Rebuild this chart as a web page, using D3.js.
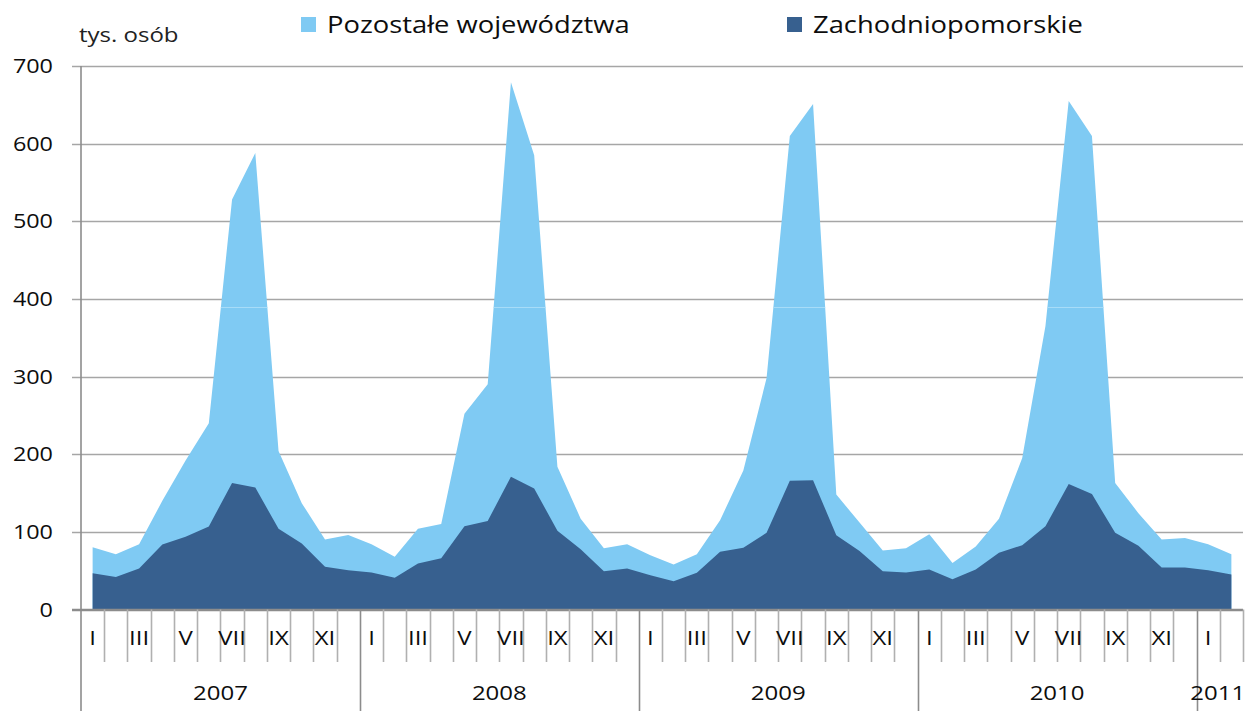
<!DOCTYPE html>
<html><head><meta charset="utf-8">
<script src="https://cdn.jsdelivr.net/npm/d3@7/dist/d3.min.js"></script>
<style>html,body{margin:0;padding:0;background:#fff;}svg{display:block;}</style>
</head><body>
<svg id="c" width="1245" height="711"></svg>
<script>
const seriesNames = ["Pozostałe województwa", "Zachodniopomorskie"];
const years = ["2007", "2008", "2009", "2010", "2011"];
const monthsPerYear = [12, 12, 12, 12, 2];
const monthLabels = ["I", "", "III", "", "V", "", "VII", "", "IX", "", "XI", ""];
const yTicks = [0, 100, 200, 300, 400, 500, 600, 700];
const zachodniopomorskie = [
  46.8, 42.0, 52.8, 83.8, 93.6, 107.0, 163.0, 157.0, 104.0, 85.0, 55.0, 50.6,
  47.7, 41.0, 59.3, 66.0, 107.3, 114.0, 171.0, 156.0, 101.3, 77.7, 49.4, 52.8,
  44.2, 36.5, 47.2, 74.3, 79.4, 98.7, 165.8, 166.6, 95.7, 75.5, 49.4, 47.7,
  51.5, 39.0, 51.5, 73.0, 82.9, 107.3, 161.5, 148.6, 98.7, 82.0, 54.0, 54.0,
  50.6, 45.0
];
const pozostale = [
  33.5, 29.3, 31.2, 56.2, 98.4, 133.0, 365.0, 431.0, 100.0, 52.0, 35.0, 45.4,
  36.3, 27.0, 44.7, 44.0, 144.7, 176.0, 508.0, 429.0, 82.7, 39.3, 29.6, 31.2,
  25.8, 21.5, 23.8, 40.7, 99.6, 199.3, 444.2, 484.4, 52.3, 36.5, 26.6, 31.3,
  45.5, 21.0, 29.5, 44.0, 112.1, 257.7, 493.5, 461.4, 64.3, 42.0, 36.0, 38.0,
  33.4, 26.0
];
const colors = { "Zachodniopomorskie": "#37608F", "Pozostałe województwa": "#7FCAF3" };

// build table
const cats = [];
years.forEach((yr, yi) => { for (let m = 0; m < monthsPerYear[yi]; m++) cats.push({ year: yr, m: m, label: monthLabels[m] }); });
const table = cats.map((c, i) => ({ i: i, "Zachodniopomorskie": zachodniopomorskie[i], "Pozostałe województwa": pozostale[i] }));

const svg = d3.select("#c");
const FONT = "'Open Sans', sans-serif";
const SX = 1.2;

const x = d3.scaleBand().domain(d3.range(cats.length)).range([81, 1243]).paddingInner(0).paddingOuter(0);
const y = d3.scaleLinear().domain([0, 700]).range([609.5, 66]);
const cx = i => x(i) + x.bandwidth() / 2;

function txt(g, px, py, s, anchor, size, fill) {
  return g.append("text").attr("transform", `translate(${px},${py}) scale(${SX},1)`)
    .attr("text-anchor", anchor).attr("font-family", FONT).attr("font-size", size)
    .attr("fill", fill || "#0d0d0d").text(s);
}

// gridlines
const grid = svg.append("g");
yTicks.forEach(t => {
  grid.append("line").attr("x1", 72).attr("x2", 1243).attr("y1", Math.round(y(t)) + 0.5).attr("y2", Math.round(y(t)) + 0.5)
    .attr("stroke", t === 0 ? "#8C8C8C" : "#A6A6A6").attr("stroke-width", 1.6);
  txt(svg, 53, y(t) + 7, String(t), "end", 19.5);
});

// stacked areas
const stack = d3.stack().keys(["Zachodniopomorskie", "Pozostałe województwa"]);
const layers = stack(table);
const areaTotal = d3.area().x((d, i) => cx(i)).y0(y(0)).y1(d => y(d[1]));
svg.append("path").datum(layers[1]).attr("d", areaTotal).attr("fill", colors["Pozostałe województwa"]);
svg.append("clipPath").attr("id", "clipTot").append("path").datum(layers[1]).attr("d", areaTotal);
svg.append("line").attr("x1", 81).attr("x2", 1243).attr("y1", y(389)).attr("y2", y(389))
  .attr("stroke", "#A9DDF8").attr("stroke-width", 1).attr("clip-path", "url(#clipTot)");
svg.append("path").datum(layers[0]).attr("d", areaTotal).attr("fill", colors["Zachodniopomorskie"]);

// axes lines
const ax = svg.append("g").attr("stroke", "#8C8C8C").attr("stroke-width", 1.6);
ax.append("line").attr("x1", 72).attr("x2", 1243).attr("y1", 609.5).attr("y2", 609.5);
ax.append("line").attr("x1", 81).attr("x2", 81).attr("y1", 66).attr("y2", 711);
let idx = 0;
const yearStarts = [];
years.forEach((yr, yi) => { yearStarts.push(idx); idx += monthsPerYear[yi]; });
for (let k = 1; k <= cats.length; k++) {
  const xx = k < cats.length ? x(k) : x.range()[1];
  const isYear = yearStarts.includes(k);
  ax.append("line").attr("x1", Math.round(xx) + 0.5).attr("x2", Math.round(xx) + 0.5).attr("y1", 609.5).attr("y2", isYear ? 711 : 662)
    .attr("stroke", isYear ? "#8C8C8C" : "#B0B0B0");
}
cats.forEach((c, i) => { if (c.label) txt(svg, cx(i), 645, c.label, "middle", 20); });
years.forEach((yr, yi) => {
  const a = x(yearStarts[yi]);
  const b = yearStarts[yi] + monthsPerYear[yi] < cats.length ? x(yearStarts[yi] + monthsPerYear[yi]) : x.range()[1];
  txt(svg, (a + b) / 2 - (yi === 4 ? 2 : 0), 700, yr, "middle", 20);
});

txt(svg, 79, 42, "tys. osób", "start", 20, "#222");

const leg = [{ name: "Pozostałe województwa", x: 301 }, { name: "Zachodniopomorskie", x: 787 }];
leg.forEach(l => {
  svg.append("rect").attr("x", l.x).attr("y", 17).attr("width", 15).attr("height", 15).attr("fill", colors[l.name]);
  txt(svg, l.x + 26, 33, l.name, "start", 22.8);
});
</script>
</body></html>
